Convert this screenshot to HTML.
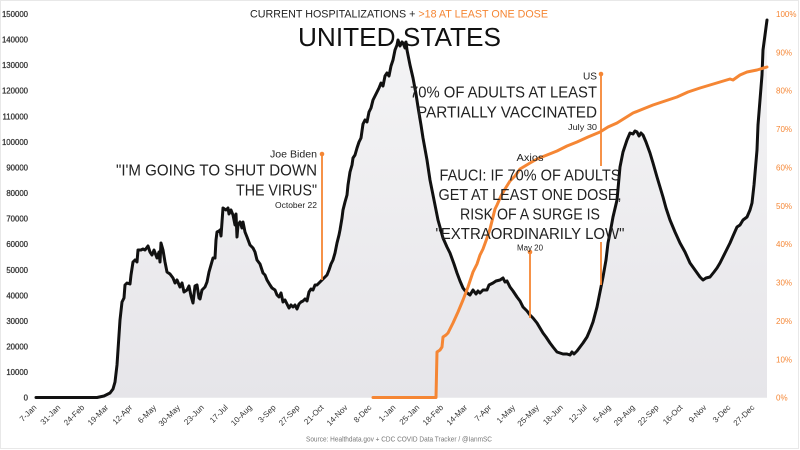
<!DOCTYPE html>
<html>
<head>
<meta charset="utf-8">
<style>
  html,body{margin:0;padding:0;background:#fff;}
  svg{display:block;}
  text{font-family:"Liberation Sans",sans-serif;}
</style>
</head>
<body>
<svg width="800" height="450" viewBox="0 0 800 450" xmlns="http://www.w3.org/2000/svg">
  <defs>
    <linearGradient id="g" x1="0" y1="14" x2="0" y2="398" gradientUnits="userSpaceOnUse">
      <stop offset="0" stop-color="#f5f5f6"/>
      <stop offset="1" stop-color="#e6e5e9"/>
    </linearGradient>
  </defs>
  <rect x="0" y="0" width="800" height="450" fill="#ffffff"/>
  <rect x="0.5" y="0.5" width="798" height="448" fill="none" stroke="#e8e8e8" stroke-width="1"/>

  <!-- area under hospitalization curve -->
  <path id="area" fill="url(#g)" stroke="none" d="M36,397.7 L97,397.5 104,396 110,393 113,389 115,382 117,365 118,350 120,320 122,302 124,298 125,285 127,283 130,284 131,275 133,262 135,260 137,262 138,250 141,250 143,249 145,250 148,246 150,252 152,255 154,250 157,258 159,252 160,262 161,243 163,250 165,262 167,272 170,274 173,278 175,283 177,280 180,287 182,283 184,292 187,290 189,286 191,296 193,303 195,286 197,285 199,298 200,299 202,290 205,287 207,282 209,272 211,265 213,258 215,258 216,240 217,232 219,231 220,230 221,236 222,222 223,208 226,210 228,208 229,214 231,210 233,215 235,225 236,214 237,237 238,225 240,222 242,228 243,222 245,232 247,237 250,245 253,248 255,252 257,260 260,264 263,273 265,275 267,280 270,285 272,288 275,290 277,295 279,297 281,293 283,302 285,300 287,304 289,308 291,305 293,307 295,305 297,309 299,304 301,302 303,301 305,299 307,301 309,292 311,289 313,290 315,285 317,285 319,283 321,281 323,279 325,277 327,275 329,270 331,264 333,260 335,253 337,243 339,235 340,230 342,218 343,210 345,202 347,195 348,185 350,172 352,165 353,158 355,155 357,148 359,142 361,138 363,124 365,120 367,122 369,112 371,108 373,100 375,96 377,92 379,88 381,83 383,86 385,76 387,73 389,76 391,66 393,60 395,50 397,45 398,40 400,46 402,42 403,43 405,48 406,42 407,50 410,65 413,78 416,94 418,107 421,125 423,138 427,160 430,180 435,205 438,220 443,238 447,247 450,253 454,264 457,273 460,281 463,288 466,292 470,295 473,290 476,294 478,291 480,293 483,290 487,290 489,285 491,284 493,283 496,281 500,280 503,278 505,282 507,281 510,287 513,291 517,297 520,301 523,307 527,311 530,315 533,318 537,323 540,328 543,333 546,337 550,343 553,347 557,352 560,353 563,354 567,354 570,355 572,352 574,354 577,351 580,347 583,343 587,337 590,330 593,322 597,307 600,292 603,277 606,260 608,243 611,228 613,217 617,200 620,167 623,152 627,140 630,133 633,134 635,131 637,132 639,136 641,133 643,135 646,142 650,153 653,163 657,177 660,187 663,197 666,208 670,220 675,232 680,243 685,252 690,263 695,270 700,277 703,280 706,278 710,277 714,272 717,268 720,263 725,253 730,243 733,236 737,227 740,225 743,220 747,217 750,210 752,203 754,185 757,150 758,125 760,100 762,75 763,50 765,35 767,20 767,397.7 Z"/>

  <!-- hospitalization line -->
  <polyline fill="none" stroke="#111" stroke-width="3" stroke-linejoin="round" stroke-linecap="round" points="36,397.5 97,397.5 104,396 110,393 113,389 115,382 117,365 118,350 120,320 122,302 124,298 125,285 127,283 130,284 131,275 133,262 135,260 137,262 138,250 141,250 143,249 145,250 148,246 150,252 152,255 154,250 157,258 159,252 160,262 161,243 163,250 165,262 167,272 170,274 173,278 175,283 177,280 180,287 182,283 184,292 187,290 189,286 191,296 193,303 195,286 197,285 199,298 200,299 202,290 205,287 207,282 209,272 211,265 213,258 215,258 216,240 217,232 219,231 220,230 221,236 222,222 223,208 226,210 228,208 229,214 231,210 233,215 235,225 236,214 237,237 238,225 240,222 242,228 243,222 245,232 247,237 250,245 253,248 255,252 257,260 260,264 263,273 265,275 267,280 270,285 272,288 275,290 277,295 279,297 281,293 283,302 285,300 287,304 289,308 291,305 293,307 295,305 297,309 299,304 301,302 303,301 305,299 307,301 309,292 311,289 313,290 315,285 317,285 319,283 321,281 323,279 325,277 327,275 329,270 331,264 333,260 335,253 337,243 339,235 340,230 342,218 343,210 345,202 347,195 348,185 350,172 352,165 353,158 355,155 357,148 359,142 361,138 363,124 365,120 367,122 369,112 371,108 373,100 375,96 377,92 379,88 381,83 383,86 385,76 387,73 389,76 391,66 393,60 395,50 397,45 398,40 400,46 402,42 403,43 405,48 406,42 407,50 410,65 413,78 416,94 418,107 421,125 423,138 427,160 430,180 435,205 438,220 443,238 447,247 450,253 454,264 457,273 460,281 463,288 466,292 470,295 473,290 476,294 478,291 480,293 483,290 487,290 489,285 491,284 493,283 496,281 500,280 503,278 505,282 507,281 510,287 513,291 517,297 520,301 523,307 527,311 530,315 533,318 537,323 540,328 543,333 546,337 550,343 553,347 557,352 560,353 563,354 567,354 570,355 572,352 574,354 577,351 580,347 583,343 587,337 590,330 593,322 597,307 600,292 603,277 606,260 608,243 611,228 613,217 617,200 620,167 623,152 627,140 630,133 633,134 635,131 637,132 639,136 641,133 643,135 646,142 650,153 653,163 657,177 660,187 663,197 666,208 670,220 675,232 680,243 685,252 690,263 695,270 700,277 703,280 706,278 710,277 714,272 717,268 720,263 725,253 730,243 733,236 737,227 740,225 743,220 747,217 750,210 752,203 754,185 757,150 758,125 760,100 762,75 763,50 765,35 767,20"/>

  <!-- vaccination line -->
  <polyline fill="none" stroke="#f58634" stroke-width="3" stroke-linejoin="round" stroke-linecap="round" points="373,397.5 436,397.5 437,352 440,350 442,347 443,337 446,335 448,333 453,323 458,312 463,300 468,287 473,272 477,264 480,255 483,249 487,238 490,229 493,217 495,209 497,205 501,196 505,189 510,181 515,176 520,169 525,166 530,163 537,159 547,155 557,151 567,146 577,142 588,137 600,132 608,127 617,123 625,118 633,113 643,109 653,105 665,101 677,97 688,92 700,88 710,85 720,82 730,79 733,80 740,75 747,72 757,70 767,67"/>

  <!-- annotation lines -->
  <g stroke="#f58634" stroke-width="1.8" fill="#f58634">
    <line x1="322" y1="154" x2="322" y2="280"/>
    <circle cx="322" cy="154" r="2.3" stroke="none"/>
    <line x1="601" y1="74" x2="601" y2="166"/>
    <line x1="601" y1="242" x2="601" y2="285"/>
    <circle cx="601" cy="74" r="2.3" stroke="none"/>
    <line x1="530" y1="252" x2="530" y2="318"/>
    <circle cx="530" cy="252" r="2.3" stroke="none"/>
  </g>

  <!-- left axis labels -->
  <g font-size="7.8" fill="#333" stroke="#333" stroke-width="0.25" text-anchor="end">
    <text x="28" y="400.7">0</text>
    <text x="28" y="375.1">10000</text>
    <text x="28" y="349.5">20000</text>
    <text x="28" y="324.0">30000</text>
    <text x="28" y="298.4">40000</text>
    <text x="28" y="272.8">50000</text>
    <text x="28" y="247.2">60000</text>
    <text x="28" y="221.6">70000</text>
    <text x="28" y="196.1">80000</text>
    <text x="28" y="170.5">90000</text>
    <text x="28" y="144.9">100000</text>
    <text x="28" y="119.3">110000</text>
    <text x="28" y="93.7">120000</text>
    <text x="28" y="68.2">130000</text>
    <text x="28" y="42.6">140000</text>
    <text x="28" y="17.0">150000</text>
  </g>

  <!-- right axis labels -->
  <g font-size="8" fill="#f58634" text-anchor="start">
    <text x="776" y="400.7">0%</text>
    <text x="776" y="362.3">10%</text>
    <text x="776" y="324.0">20%</text>
    <text x="776" y="285.6">30%</text>
    <text x="776" y="247.2">40%</text>
    <text x="776" y="208.9">50%</text>
    <text x="776" y="170.5">60%</text>
    <text x="776" y="132.1">70%</text>
    <text x="776" y="93.7">80%</text>
    <text x="776" y="55.4">90%</text>
    <text x="776" y="17.0">100%</text>
  </g>

  <!-- x axis labels -->
  <g font-size="8" fill="#333" text-anchor="end">
    <text transform="translate(37,408) rotate(-45)">7-Jan</text>
    <text transform="translate(60.9,408) rotate(-45)">31-Jan</text>
    <text transform="translate(84.9,408) rotate(-45)">24-Feb</text>
    <text transform="translate(108.8,408) rotate(-45)">19-Mar</text>
    <text transform="translate(132.7,408) rotate(-45)">12-Apr</text>
    <text transform="translate(156.7,408) rotate(-45)">6-May</text>
    <text transform="translate(180.6,408) rotate(-45)">30-May</text>
    <text transform="translate(204.5,408) rotate(-45)">23-Jun</text>
    <text transform="translate(228.4,408) rotate(-45)">17-Jul</text>
    <text transform="translate(252.4,408) rotate(-45)">10-Aug</text>
    <text transform="translate(276.3,408) rotate(-45)">3-Sep</text>
    <text transform="translate(300.2,408) rotate(-45)">27-Sep</text>
    <text transform="translate(324.2,408) rotate(-45)">21-Oct</text>
    <text transform="translate(348.1,408) rotate(-45)">14-Nov</text>
    <text transform="translate(372,408) rotate(-45)">8-Dec</text>
    <text transform="translate(396,408) rotate(-45)">1-Jan</text>
    <text transform="translate(419.9,408) rotate(-45)">25-Jan</text>
    <text transform="translate(443.8,408) rotate(-45)">18-Feb</text>
    <text transform="translate(467.7,408) rotate(-45)">14-Mar</text>
    <text transform="translate(491.7,408) rotate(-45)">7-Apr</text>
    <text transform="translate(515.6,408) rotate(-45)">1-May</text>
    <text transform="translate(539.5,408) rotate(-45)">25-May</text>
    <text transform="translate(563.5,408) rotate(-45)">18-Jun</text>
    <text transform="translate(587.4,408) rotate(-45)">12-Jul</text>
    <text transform="translate(611.3,408) rotate(-45)">5-Aug</text>
    <text transform="translate(635.3,408) rotate(-45)">29-Aug</text>
    <text transform="translate(659.2,408) rotate(-45)">22-Sep</text>
    <text transform="translate(683.1,408) rotate(-45)">16-Oct</text>
    <text transform="translate(707,408) rotate(-45)">9-Nov</text>
    <text transform="translate(731,408) rotate(-45)">3-Dec</text>
    <text transform="translate(754.9,408) rotate(-45)">27-Dec</text>
  </g>

  <!-- titles -->
  <text x="250" y="17.3" font-size="10.6" fill="#222" textLength="298" lengthAdjust="spacingAndGlyphs">CURRENT HOSPITALIZATIONS + <tspan fill="#f58634">&gt;18 AT LEAST ONE DOSE</tspan></text>
  <text x="298" y="46" font-size="26" fill="#111" textLength="203" lengthAdjust="spacingAndGlyphs">UNITED STATES</text>

  <!-- Biden annotation -->
  <g fill="#222" text-anchor="end">
    <text x="317" y="157.5" font-size="10" textLength="47" lengthAdjust="spacingAndGlyphs">Joe Biden</text>
    <text x="317" y="175.7" font-size="16" textLength="201" lengthAdjust="spacingAndGlyphs">"I'M GOING TO SHUT DOWN</text>
    <text x="317" y="195.3" font-size="16" textLength="81" lengthAdjust="spacingAndGlyphs">THE VIRUS"</text>
    <text x="317" y="207.8" font-size="8.5" textLength="42" lengthAdjust="spacingAndGlyphs">October 22</text>
  </g>

  <!-- US annotation -->
  <g fill="#222" text-anchor="end">
    <text x="597" y="79.5" font-size="10" textLength="14" lengthAdjust="spacingAndGlyphs">US</text>
    <text x="597" y="97.5" font-size="16" textLength="187" lengthAdjust="spacingAndGlyphs">70% OF ADULTS AT LEAST</text>
    <text x="597" y="117.6" font-size="16" textLength="180" lengthAdjust="spacingAndGlyphs">PARTIALLY VACCINATED</text>
    <text x="597" y="130" font-size="8.5" textLength="29" lengthAdjust="spacingAndGlyphs">July 30</text>
  </g>

  <!-- Fauci annotation -->
  <g fill="#222" text-anchor="middle">
    <text x="530" y="160.8" font-size="10" textLength="27" lengthAdjust="spacingAndGlyphs">Axios</text>
    <text x="530" y="180.7" font-size="16" textLength="181" lengthAdjust="spacingAndGlyphs">FAUCI: IF 70% OF ADULTS</text>
    <text x="530" y="200" font-size="16" textLength="183" lengthAdjust="spacingAndGlyphs">GET AT LEAST ONE DOSE,</text>
    <text x="530" y="219.4" font-size="16" textLength="140" lengthAdjust="spacingAndGlyphs">RISK OF A SURGE IS</text>
    <text x="530" y="239" font-size="16" textLength="189" lengthAdjust="spacingAndGlyphs">"EXTRAORDINARILY LOW"</text>
    <text x="530" y="250.5" font-size="8" textLength="26" lengthAdjust="spacingAndGlyphs">May 20</text>
  </g>

  <!-- source -->
  <text x="399" y="441.5" font-size="7.5" fill="#777" text-anchor="middle" textLength="186" lengthAdjust="spacingAndGlyphs">Source: Healthdata.gov + CDC COVID Data Tracker / @IanmSC</text>
</svg>
</body>
</html>
